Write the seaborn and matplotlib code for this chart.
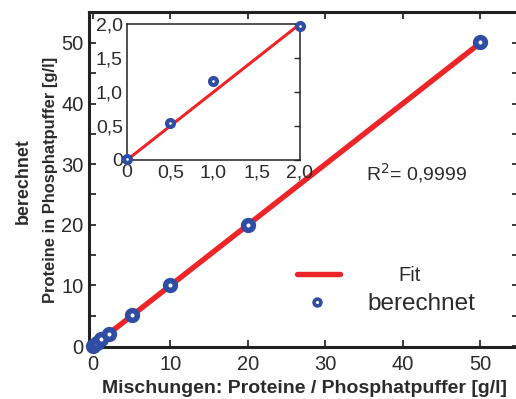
import numpy as np
import pandas as pd
import seaborn as sns
from matplotlib import pyplot as plt
from matplotlib.ticker import MultipleLocator, FixedLocator, FixedFormatter
from matplotlib.lines import Line2D

meas_x = [0, 0.5, 1, 2, 5, 10, 20, 50]
meas_y = [0.02, 0.55, 1.16, 1.97, 5.2, 10.0, 20.0, 50.2]
# linear fit
fit_x = [0, 50]
fit_y = [0.0, 50.0]
r2_text = "R$^2$= 0,9999"

inset_ticks = [0, 0.5, 1.0, 1.5, 2.0]
inset_labels = ["0", "0,5", "1,0", "1,5", "2,0"]

blue = "#2f4ea3"
red = "#ee2528"
dark = "#2b2b2b"

sns.set_style("ticks")
plt.rcParams['font.family'] = ['Liberation Sans', 'DejaVu Sans']
plt.rcParams['text.color'] = dark
plt.rcParams['axes.labelcolor'] = dark
plt.rcParams['xtick.color'] = dark
plt.rcParams['ytick.color'] = dark

df = pd.DataFrame({"x": meas_x, "y": meas_y})
fit = pd.DataFrame({"x": fit_x, "y": fit_y})

fig = plt.figure(figsize=(5.16, 3.99), dpi=100)
ax = fig.add_axes([89/516, 1-347/399, 430/516, 335/399])

sns.lineplot(data=fit, x="x", y="y", ax=ax, color=red, lw=3.9, zorder=2)
sns.scatterplot(data=df, x="x", y="y", ax=ax, s=7**2, marker="o",
                facecolor="white", edgecolor=blue, linewidth=4.0, zorder=3,
                clip_on=False)

ax.set_xlim(-0.52, 55.0)
ax.set_ylim(-0.16, 55.1)
ax.xaxis.set_major_locator(FixedLocator([0, 10, 20, 30, 40, 50]))
ax.yaxis.set_major_locator(MultipleLocator(10))
ax.yaxis.set_minor_locator(MultipleLocator(5))
ax.tick_params(which="both", direction="in", length=5, width=1.3,
               top=True, right=True, labelsize=14.5, pad=6)
ax.tick_params(axis="y", pad=4)
for s in ax.spines.values():
    s.set_linewidth(2.2)
    s.set_color("#222222")

ax.set_xlabel("Mischungen: Proteine / Phosphatpuffer [g/l]", fontsize=14,
              fontweight="bold", labelpad=4)
ax.set_ylabel("Proteine in Phosphatpuffer [g/l]", fontsize=11.9,
              fontweight="bold")
ax.yaxis.set_label_coords(-0.072, 0.5)
fig.text(23/516, 1-181/399, "berechnet", rotation=90, fontsize=12.9,
         fontweight="bold", ha="center", va="center")

ax.text(0.645, 0.52, r2_text, transform=ax.transAxes, fontsize=14,
        ha="left", va="center")

# legend: two single-entry legends so the texts can sit like the original
fit_handle = Line2D([], [], color=red, lw=3.9, solid_capstyle="round")
pt_handle = Line2D([], [], ls="none", marker="o", ms=4.9, mew=2.6,
                   mfc="white", mec=blue)
leg1 = ax.legend([fit_handle], ["Fit"], loc="center left",
                 bbox_to_anchor=(0.484, 0.212), frameon=False, fontsize=14.5,
                 handlelength=2.14, handletextpad=2.9, borderpad=0,
                 borderaxespad=0)
ax.add_artist(leg1)
leg2 = ax.legend([pt_handle], ["berechnet"], loc="center left",
                 bbox_to_anchor=(0.484, 0.127), frameon=False, fontsize=17.5,
                 handlelength=1.65, handletextpad=1.23, borderpad=0,
                 borderaxespad=0)

# inset
axi = fig.add_axes([127/516, 1-160/399, 173/516, 136/399])
sns.lineplot(data=fit, x="x", y="y", ax=axi, color=red, lw=2.2, zorder=2)
sns.scatterplot(data=df, x="x", y="y", ax=axi, s=5**2, marker="o",
                facecolor="white", edgecolor=blue, linewidth=3.0, zorder=3,
                clip_on=False)
axi.set_xlim(0, 2)
axi.set_ylim(0, 2)
axi.xaxis.set_major_locator(FixedLocator(inset_ticks))
axi.xaxis.set_major_formatter(FixedFormatter(inset_labels))
axi.yaxis.set_major_locator(FixedLocator(inset_ticks))
axi.yaxis.set_major_formatter(FixedFormatter(inset_labels))
axi.tick_params(direction="in", length=0, labelsize=14, pad=3)
axi.tick_params(axis="y", right=True, length=4, width=1.0)
axi.tick_params(axis="y", left=False)
axi.set_xlabel("")
axi.set_ylabel("")
for s in axi.spines.values():
    s.set_linewidth(1.1)
    s.set_color("#222222")

fig.savefig("out.png", dpi=100)
